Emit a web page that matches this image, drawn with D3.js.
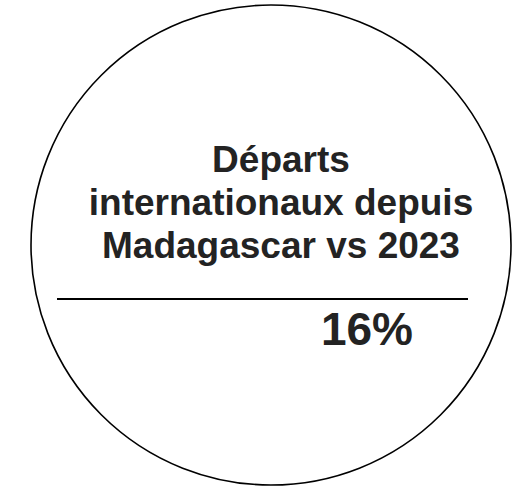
<!DOCTYPE html>
<html lang="fr">
<head>
  <meta charset="UTF-8">
  <title>Départs internationaux</title>
  <script src="https://cdn.jsdelivr.net/npm/d3@7"></script>
  <style>
    body { margin: 0; background: #fff; }
  </style>
</head>
<body>
  <div id="chart"></div>
  <script>
    // data
    var titleLines = ["Départs", "internationaux depuis", "Madagascar vs 2023"];
    var values = [16];
    var valueLabels = ["16%"];

    var width = 516, height = 487;

    var svg = d3.select("#chart")
      .append("svg")
      .attr("width", width)
      .attr("height", height);

    // circle frame
    svg.append("circle")
      .attr("cx", 271)
      .attr("cy", 245)
      .attr("r", 240)
      .style("fill", "white")
      .style("stroke", "#000")
      .style("stroke-width", 1.6);

    // one band per title line, baselines at 172 / 215 / 259
    var y = d3.scaleBand()
      .domain(d3.range(titleLines.length))
      .range([172, 301]);

    svg.selectAll("text.title")
      .data(titleLines)
      .enter()
      .append("text")
      .attr("class", "title")
      .attr("x", 281)
      .attr("y", (d, i) => y(i))
      .attr("text-anchor", "middle")
      .style("font-family", "'Liberation Sans', Arial, sans-serif")
      .style("font-weight", "bold")
      .style("font-size", "37px")
      .style("fill", "#232323")
      .text(d => d);

    svg.append("line")
      .attr("x1", 57)
      .attr("x2", 468)
      .attr("y1", 299)
      .attr("y2", 299)
      .style("stroke", "#000")
      .style("stroke-width", 2);

    svg.selectAll("text.value")
      .data(values)
      .enter()
      .append("text")
      .attr("class", "value")
      .attr("x", 367)
      .attr("y", 345)
      .attr("text-anchor", "middle")
      .style("font-family", "'Liberation Sans', Arial, sans-serif")
      .style("font-weight", "bold")
      .style("font-size", "46px")
      .style("fill", "#232323")
      .text((d, i) => valueLabels[i]);
  </script>
</body>
</html>
